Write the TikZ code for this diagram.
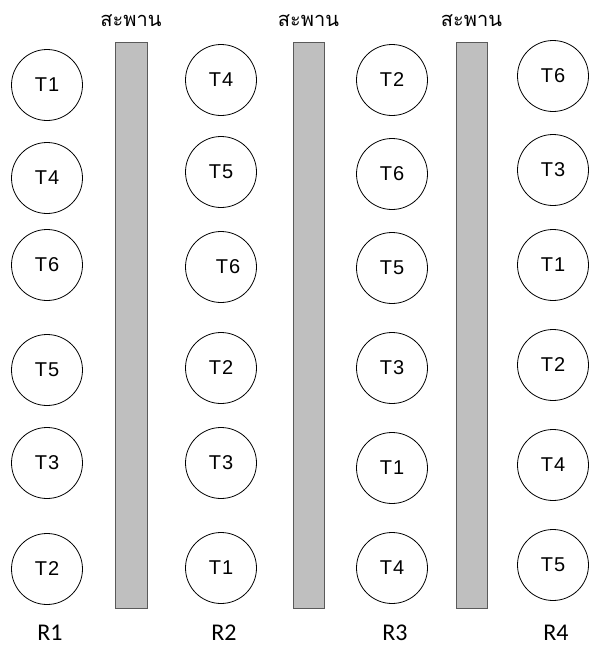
\documentclass[tikz,border=0pt]{standalone}
\usepackage{fontspec}
\setmainfont{Liberation Sans}
\newfontfamily\thaifont[Script=Thai]{Loma}
\newfontfamily\rowfont{Carlito}
\usetikzlibrary{positioning}
\definecolor{bridgegray}{RGB}{191,191,191}
\definecolor{bridgeedge}{RGB}{90,90,90}
\tikzset{
  tank/.style={circle, draw, line width=0.8pt, minimum size=71pt, inner sep=0pt,
    font=\fontsize{20}{20}\selectfont},
  bridge/.style={draw=bridgeedge, line width=0.8pt, fill=bridgegray},
  rowlabel/.style={font=\rowfont\fontsize{24}{24}\selectfont},
  bridgelabel/.style={font=\thaifont\fontsize{20}{20}\selectfont}
}
\begin{document}
\begin{tikzpicture}[x=1pt, y=-1pt]
    \useasboundingbox (0,0) rectangle (589,646);

    % bridges between the rows
    \foreach \i/\xl/\xr in {1/115/147, 2/293/324, 3/456/487} {
        \draw[bridge] (\xl,42) rectangle (\xr,608);
        \node[bridgelabel] (b\i) at ({(\xl+\xr)/2},21) {สะพาน};
    }

    % tanks, one column per row
    \foreach \c/\x/\items in {
        1/47/{T\kern1pt 1/85, T\kern1pt 4/178, T\kern1pt 6/265, T\kern1pt 5/370, T\kern1pt 3/463, T\kern1pt 2/569},
        2/221/{T\kern1pt 4/80, T\kern1pt 5/172, \hspace{14pt}T\kern1pt 6/267, T\kern1pt 2/368, T\kern1pt 3/463, T\kern1pt 1/568},
        3/392/{T\kern1pt 2/80, T\kern1pt 6/174, T\kern1pt 5/268, T\kern1pt 3/368, T\kern1pt 1/468, T\kern1pt 4/568},
        4/553/{T\kern1pt 6/76, T\kern1pt 3/170, T\kern1pt 1/265, T\kern1pt 2/365, T\kern1pt 4/465, T\kern1pt 5/565}} {
        \foreach \t/\y [count=\k] in \items {
            \node[tank] (t\c-\k) at (\x,\y) {\t};
        }
        \node[rowlabel] (r\c) at (\x+3,633) {R\c};
    }
\end{tikzpicture}
\end{document}
